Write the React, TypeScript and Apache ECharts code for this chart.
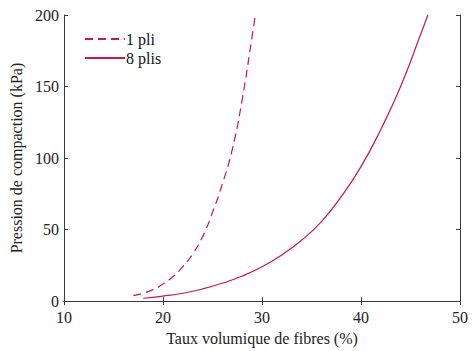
import React, { useEffect, useRef } from "react";
import * as echarts from "echarts";

const seriesNames = ["1 pli", "8 plis"];
const pli1X = [17, 18, 19, 20, 21, 22, 23, 24, 25, 26, 27, 28, 29, 29.33];
const pli1Y = [3.8, 5.5, 8, 12, 17, 24, 33, 45, 62, 82, 106, 141, 185, 200];
const plis8X = [18, 20, 22, 24, 26, 28, 30, 32, 34, 36, 38, 40, 42, 44, 46, 46.75];
const plis8Y = [2, 3.5, 5.5, 8.5, 12.5, 17.5, 24, 32.3, 42.5, 55.5, 73, 94, 120, 150, 186, 200];
const xTicks = [10, 20, 30, 40, 50];
const yTicks = [0, 50, 100, 150, 200];
const xTitle = "Taux volumique de fibres (%)";
const yTitle = "Pression de compaction (kPa)";

const FONT = "Liberation Serif, Times New Roman, serif";
const AXIS = "#3a3a3a";
const COLOR = "#c8145a";

export default function App() {
  const ref = useRef<HTMLDivElement>(null);
  useEffect(() => {
    if (!ref.current) return;
    const chart = echarts.init(ref.current, undefined, { renderer: "svg" });
    const xMin = xTicks[0];
    const xMax = xTicks[xTicks.length - 1];
    const yMin = yTicks[0];
    const yMax = yTicks[yTicks.length - 1];
    const xStep = xTicks[1] - xTicks[0];
    const yStep = yTicks[1] - yTicks[0];
    const axisLine = { show: true, lineStyle: { color: AXIS, width: 1 } };
    const tick = { show: true, inside: true, length: 4, lineStyle: { color: AXIS } };
    const txt = { fontFamily: FONT, fontSize: 16, color: "#222" };
    chart.setOption({
      animation: false,
      textStyle: { fontFamily: FONT },
      grid: { left: 64, right: 12, top: 15, bottom: 47, containLabel: false },
      legend: {
        orient: "vertical",
        left: 79,
        top: 26,
        itemWidth: 40,
        itemHeight: 14,
        itemGap: 3,
        itemStyle: { opacity: 0 },
        textStyle: { ...txt, color: "#111", padding: [0, 0, 0, -4] },
        data: seriesNames,
      },
      xAxis: [
        {
          type: "value",
          min: xMin,
          max: xMax,
          interval: xStep,
          position: "bottom",
          axisLine,
          axisTick: tick,
          splitLine: { show: false },
          axisLabel: { ...txt, margin: 8 },
          name: xTitle,
          nameLocation: "middle",
          nameGap: 28,
          nameTextStyle: txt,
        },
        {
          type: "value",
          min: xMin,
          max: xMax,
          interval: xStep,
          position: "top",
          axisLine,
          axisTick: tick,
          splitLine: { show: false },
          axisLabel: { show: false },
        },
      ],
      yAxis: [
        {
          type: "value",
          min: yMin,
          max: yMax,
          interval: yStep,
          position: "left",
          axisLine,
          axisTick: tick,
          splitLine: { show: false },
          axisLabel: { ...txt, margin: 5 },
          name: yTitle,
          nameLocation: "middle",
          nameGap: 34,
          nameTextStyle: txt,
        },
        {
          type: "value",
          min: yMin,
          max: yMax,
          interval: yStep,
          position: "right",
          axisLine,
          axisTick: tick,
          splitLine: { show: false },
          axisLabel: { show: false },
        },
      ],
      series: [
        {
          name: seriesNames[0],
          type: "line",
          smooth: true,
          symbol: "none",
          xAxisIndex: 0,
          yAxisIndex: 0,
          lineStyle: { color: COLOR, width: 1.2, type: [8, 5] },
          itemStyle: { color: COLOR },
          data: pli1X.map((x, i) => [x, pli1Y[i]]),
        },
        {
          name: seriesNames[1],
          type: "line",
          smooth: true,
          symbol: "none",
          xAxisIndex: 0,
          yAxisIndex: 0,
          lineStyle: { color: COLOR, width: 1.2, type: "solid" },
          itemStyle: { color: COLOR },
          data: plis8X.map((x, i) => [x, plis8Y[i]]),
        },
      ],
    });
    return () => chart.dispose();
  }, []);
  return (
    <div
      ref={ref}
      style={{ width: 472, height: 351, position: "absolute", left: 0, top: 0, background: "#fff" }}
    />
  );
}
